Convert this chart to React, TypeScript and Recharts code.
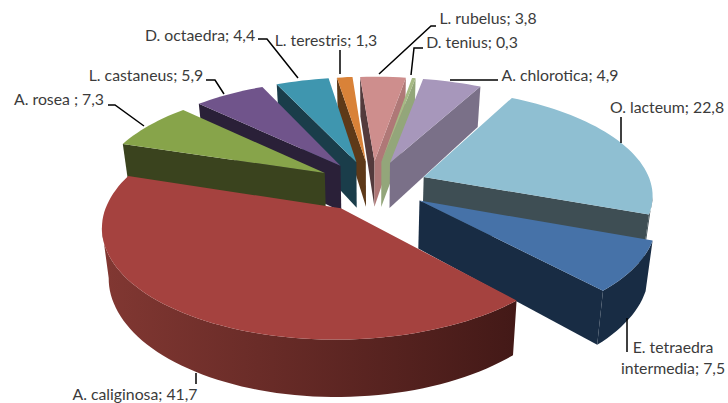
import { Pie, PieChart } from 'recharts'

// clockwise from the top, split so the two sides paint back to front
const leftNames = ['L. terestris', 'D. octaedra', 'L. castaneus', 'A. rosea ']
const leftValues = [1.3, 4.4, 5.9, 7.3]
const rightNames = [
  'L. rubelus',
  'D. tenius',
  'A. chlorotica',
  'O. lacteum',
  'E. tetraedra\nintermedia',
  'A. caliginosa',
]
const rightValues = [3.8, 0.3, 4.9, 22.8, 7.5, 41.7]

const leftData = leftNames.map((name, i) => ({ name, value: leftValues[i] }))
const rightData = rightNames.map((name, i) => ({ name, value: rightValues[i] }))

const sum = (list: number[]) => list.reduce((a, b) => a + b, 0)
const DEG_PER_UNIT = 360 / (sum(leftValues) + sum(rightValues))
const SPLIT_ANGLE = 94.2

const CX = 372
const CY = 186
const RADIUS = 228
const EXPLODE = 56
const TILT = 0.457
const PERSPECTIVE = 0.15
const DEPTH = 47
const CONVERGE = 0.975

const slices: Record<string, any> = {
  'L. terestris': { top: '#D98238', start: '#5E3918', end: '#A8652C', rim: ['#8a5522', '#8a5522'] },
  'D. octaedra': { top: '#3F96AF', start: '#1A3D4A', end: '#2F7486', rim: ['#1A3D4A', '#1A3D4A'] },
  'L. castaneus': { top: '#70548B', start: '#2A2038', end: '#57416C', rim: ['#2A2038', '#2A2038'] },
  'A. rosea ': { top: '#87A44A', start: '#3A431E', end: '#6a8139', rim: ['#3A431E', '#3A431E'] },
  'L. rubelus': { top: '#CE8E8D', start: '#533A3C', end: '#AF7877', rim: ['#AF7877', '#AF7877'] },
  'D. tenius': { top: '#A6BA85', start: '#93A67A', end: '#93A67A', rim: ['#93A67A', '#93A67A'] },
  'A. chlorotica': { top: '#A797BB', start: '#7A7088', end: '#7A7088', rim: ['#7A7088', '#7A7088'] },
  'O. lacteum': { top: '#8FBFD2', start: '#3E4E54', end: '#3E4E54', rim: ['#3E4E54', '#3E4E54'] },
  'E. tetraedra\nintermedia': { top: '#4672A8', start: '#182C44', end: '#182C44', rim: ['#182C44', '#182C44'] },
  'A. caliginosa': { top: '#A5423F', start: '#4a1b18', end: '#431917', rim: ['#913F39', '#431917'] },
}

const labels: Record<string, any> = {
  'O. lacteum': { x: 667, y: 113, line: '621,117 621,143' },
  'A. chlorotica': { x: 560, y: 81, line: '450,80 498,80' },
  'D. tenius': { x: 472, y: 48, line: '411,75 414,48 423,48' },
  'L. rubelus': { x: 488, y: 24, line: '379,74 431,26 436,26' },
  'L. terestris': { x: 326, y: 46, line: '340,74 340,50' },
  'D. octaedra': { x: 200, y: 41, line: '298,78 267,39 258,39' },
  'L. castaneus': { x: 146, y: 81, line: '224,94 215,80 206,80' },
  'A. rosea ': { x: 59, y: 105, line: '144,126 115,105 108,105' },
  'A. caliginosa': { x: 135, y: 400, line: '196,373 196,384' },
  'E. tetraedra\nintermedia': { x: 673, y: 353, line: '627,318 627,352' },
}

// ground plane -> screen, nearer points get bigger
function project(groundX: number, groundY: number, drop = 0) {
  const s = 1 / (1 - (PERSPECTIVE * groundY) / RADIUS)
  const x = CX + groundX * s
  const y = CY + groundY * TILT * s
  if (!drop) return [x, y]
  return [CX + (x - CX) * CONVERGE, y + drop * s]
}

const toPath = (pts: number[][]) =>
  'M' + pts.map((p) => `${p[0].toFixed(1)},${p[1].toFixed(1)}`).join('L') + 'Z'

function Wedge(props: any) {
  const { outerRadius, startAngle, endAngle, name } = props
  const style = slices[name]
  const a = Math.min(90 - startAngle, 90 - endAngle)
  const b = Math.max(90 - startAngle, 90 - endAngle)
  const rad = (t: number) => (t * Math.PI) / 180
  const mid = rad((a + b) / 2)
  const ox = EXPLODE * Math.sin(mid)
  const oy = -EXPLODE * Math.cos(mid)

  const rimGround: number[][] = []
  const steps = Math.max(2, Math.ceil((b - a) / 2))
  for (let i = 0; i <= steps; i++) {
    const t = rad(a + ((b - a) * i) / steps)
    rimGround.push([ox + outerRadius * Math.sin(t), oy - outerRadius * Math.cos(t)])
  }
  const first = rimGround[0]
  const last = rimGround[rimGround.length - 1]
  const upper = (g: number[]) => project(g[0], g[1])
  const lower = (g: number[]) => project(g[0], g[1], DEPTH)
  const apex = [ox, oy]
  const top = [upper(apex), ...rimGround.map(upper)]

  // only walls running right to left along the clockwise outline face the viewer
  const faces: any[] = []
  const cut = (from: number[], to: number[], fill: string, key: string) => {
    if (upper(to)[0] >= upper(from)[0]) return
    const quad = [upper(from), upper(to), lower(to), lower(from)]
    faces.push(<path key={key} d={toPath(quad)} fill={fill} />)
  }
  cut(apex, first, style.start, 'start')
  cut(last, apex, style.end, 'end')

  const visible = rimGround.filter((g, i) => {
    const prev = rimGround[i - 1]
    const next = rimGround[i + 1]
    return (
      (next && upper(next)[0] < upper(g)[0]) || (prev && upper(g)[0] < upper(prev)[0])
    )
  })
  const gradId = `rim-${name.replace(/[^a-z]/gi, '')}`
  const xs = visible.map((g) => upper(g)[0])
  if (visible.length > 1) {
    const band = [...visible.map(upper), ...[...visible].reverse().map(lower)]
    faces.push(<path key="rim" d={toPath(band)} fill={`url(#${gradId})`} />)
  }

  return (
    <g>
      <defs>
        <linearGradient
          id={gradId}
          gradientUnits="userSpaceOnUse"
          x1={Math.min(...xs, 0)}
          x2={Math.max(...xs, 1)}
          y1={0}
          y2={0}
        >
          <stop offset="0%" stopColor={style.rim[0]} />
          <stop offset="100%" stopColor={style.rim[1]} />
        </linearGradient>
      </defs>
      {faces}
      <path d={toPath(top)} fill={style.top} />
    </g>
  )
}

function SliceLabel(props: any) {
  const { name, value } = props
  const spot = labels[name]
  const text = `${name}; ${String(value).replace('.', ',')}`
  return (
    <g>
      <polyline points={spot.line} fill="none" stroke="#000" strokeWidth={1.5} />
      <text
        x={spot.x}
        y={spot.y}
        textAnchor="middle"
        fontFamily="Lato, sans-serif"
        fontSize={15.8}
        fill="#3b3b3b"
      >
        {text.split('\n').map((line, i) => (
          <tspan key={i} x={spot.x} dy={i ? 21 : 0}>
            {line}
          </tspan>
        ))}
      </text>
    </g>
  )
}

export default function App() {
  return (
    <div style={{ position: 'absolute', left: 0, top: 0, width: 728, height: 403, background: '#fff' }}>
      <PieChart width={728} height={403} margin={{ top: 0, right: 0, bottom: 0, left: 0 }}>
        <Pie
          data={leftData}
          dataKey="value"
          cx={CX}
          cy={CY}
          outerRadius={RADIUS}
          startAngle={SPLIT_ANGLE}
          endAngle={SPLIT_ANGLE + sum(leftValues) * DEG_PER_UNIT}
          shape={Wedge}
          label={SliceLabel}
          labelLine={false}
          stroke="none"
          isAnimationActive={false}
        />
        <Pie
          data={rightData}
          dataKey="value"
          cx={CX}
          cy={CY}
          outerRadius={RADIUS}
          startAngle={SPLIT_ANGLE}
          endAngle={SPLIT_ANGLE - sum(rightValues) * DEG_PER_UNIT}
          shape={Wedge}
          label={SliceLabel}
          labelLine={false}
          stroke="none"
          isAnimationActive={false}
        />
      </PieChart>
    </div>
  )
}
